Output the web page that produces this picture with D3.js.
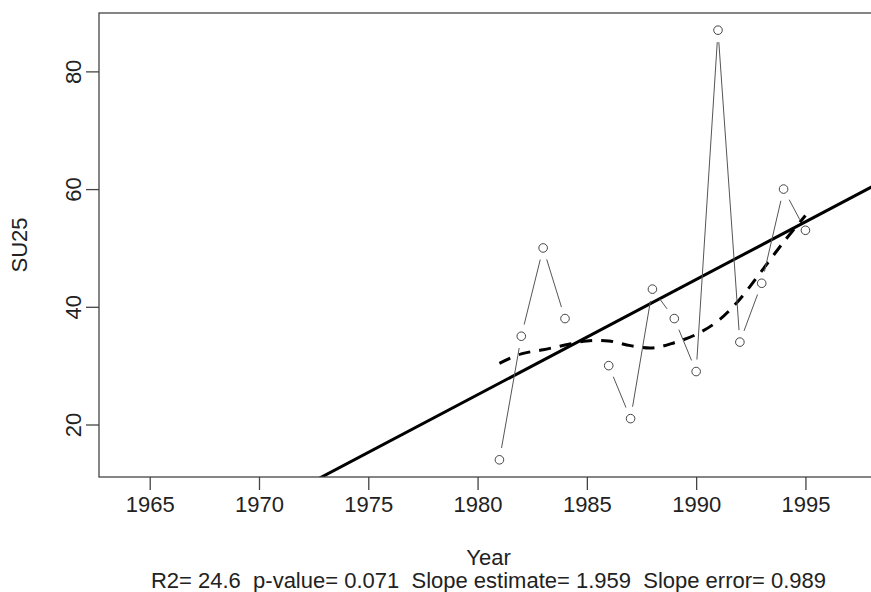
<!DOCTYPE html>
<html>
<head>
<meta charset="utf-8">
<script src="https://cdn.jsdelivr.net/npm/d3@7"></script>
<style>
  body { margin: 0; background: #fff; }
  svg { display: block; font-family: "Liberation Sans", Arial, sans-serif; }
</style>
</head>
<body>
<div id="chart"></div>
<script>
// observed series (1985 missing)
const years = [1981, 1982, 1983, 1984, 1985, 1986, 1987, 1988, 1989, 1990, 1991, 1992, 1993, 1994, 1995];
const su25 = [14, 35, 50, 38, null, 30, 21, 43, 38, 29, 87, 34, 44, 60, 53];
// loess smooth
const smooth = [30.4, 32.0, 32.7, 33.5, 34.2, 34.2, 33.4, 33.0, 33.9, 35.3, 37.6, 41.3, 46.1, 51.0, 55.5];
const slope = 1.959;
const xRange = [1964, 1997];
const xTicks = [1965, 1970, 1975, 1980, 1985, 1990, 1995];
const yTicks = [20, 40, 60, 80];
const statsText = "R2= 24.6  p-value= 0.071  Slope estimate= 1.959  Slope error= 0.989";

const W = 871, H = 592;
const plot = { left: 99, right: 878, top: 13, bottom: 477 };
const fs = 22;

const svg = d3.select("#chart").append("svg")
  .attr("width", W).attr("height", H);

// R-style 4% axis extension
const ext = (a, b) => [a - 0.04 * (b - a), b + 0.04 * (b - a)];
const obs = years.map((y, i) => ({ year: y, v: su25[i] })).filter(d => d.v != null);

const x = d3.scaleLinear().domain(ext(...xRange)).range([plot.left, plot.right]);
const y = d3.scaleLinear().domain(ext(d3.min(obs, d => d.v), d3.max(obs, d => d.v)))
  .range([plot.bottom, plot.top]);

svg.append("defs").append("clipPath").attr("id", "clip")
  .append("rect")
  .attr("x", plot.left).attr("y", plot.top)
  .attr("width", plot.right - plot.left).attr("height", plot.bottom - plot.top);

const g = svg.append("g").attr("clip-path", "url(#clip)");

// regression line through the means
const mx = d3.mean(obs, d => d.year), my = d3.mean(obs, d => d.v);
const fit = yr => my + slope * (yr - mx);
const xd = x.domain();
g.append("line")
  .attr("x1", x(xd[0])).attr("y1", y(fit(xd[0])))
  .attr("x2", x(xd[1])).attr("y2", y(fit(xd[1])))
  .attr("stroke", "#000").attr("stroke-width", 3);

// dashed smooth
g.append("path")
  .datum(years.map((yr, i) => [yr, smooth[i]]))
  .attr("fill", "none")
  .attr("stroke", "#000")
  .attr("stroke-width", 3)
  .attr("stroke-dasharray", "12,9")
  .attr("d", d3.line().x(d => x(d[0])).y(d => y(d[1])).curve(d3.curveCatmullRom));

// type="b": segments with gaps around points
const gap = 12;
for (let i = 0; i < years.length - 1; i++) {
  if (su25[i] == null || su25[i + 1] == null) continue;
  const x1 = x(years[i]), y1 = y(su25[i]), x2 = x(years[i + 1]), y2 = y(su25[i + 1]);
  const len = Math.hypot(x2 - x1, y2 - y1);
  if (len <= 2 * gap) continue;
  const ux = (x2 - x1) / len, uy = (y2 - y1) / len;
  g.append("line")
    .attr("x1", x1 + ux * gap).attr("y1", y1 + uy * gap)
    .attr("x2", x2 - ux * gap).attr("y2", y2 - uy * gap)
    .attr("stroke", "#555").attr("stroke-width", 1);
}

g.selectAll("circle")
  .data(obs)
  .enter()
  .append("circle")
  .attr("cx", d => x(d.year))
  .attr("cy", d => y(d.v))
  .attr("r", 4.3)
  .attr("fill", "#fff")
  .attr("stroke", "#444")
  .attr("stroke-width", 1);

// box (right side falls outside the window)
svg.append("rect")
  .attr("x", plot.left).attr("y", plot.top)
  .attr("width", plot.right - plot.left).attr("height", plot.bottom - plot.top)
  .attr("fill", "none").attr("stroke", "#444").attr("stroke-width", 1.3);

// axes
const xAxis = svg.append("g")
  .attr("transform", `translate(0,${plot.bottom})`)
  .call(d3.axisBottom(x).tickValues(xTicks).tickFormat(d3.format("d")).tickSize(13).tickPadding(6));
const yAxis = svg.append("g")
  .attr("transform", `translate(${plot.left},0)`)
  .call(d3.axisLeft(y).tickValues(yTicks).tickSize(13).tickPadding(4));

[xAxis, yAxis].forEach(a => {
  a.select(".domain").remove();
  a.selectAll(".tick line").attr("stroke", "#444").attr("stroke-width", 1.3);
  a.selectAll("text").attr("font-size", fs).attr("fill", "#222")
    .attr("font-family", "Liberation Sans, Arial, sans-serif");
});
yAxis.selectAll(".tick text")
  .attr("x", null).attr("dy", null)
  .attr("text-anchor", "middle")
  .attr("transform", "translate(-18,0) rotate(-90)");

// titles
svg.append("text")
  .attr("x", (plot.left + plot.right) / 2).attr("y", 565)
  .attr("text-anchor", "middle").attr("font-size", fs).attr("fill", "#222")
  .text("Year");
svg.append("text")
  .attr("transform", `translate(27,${(plot.top + plot.bottom) / 2}) rotate(-90)`)
  .attr("text-anchor", "middle").attr("font-size", fs).attr("fill", "#222")
  .text("SU25");
svg.append("text")
  .attr("x", (plot.left + plot.right) / 2).attr("y", 588)
  .attr("text-anchor", "middle").attr("font-size", fs).attr("fill", "#222")
  .style("white-space", "pre")
  .attr("xml:space", "preserve")
  .text(statsText);
</script>
</body>
</html>
